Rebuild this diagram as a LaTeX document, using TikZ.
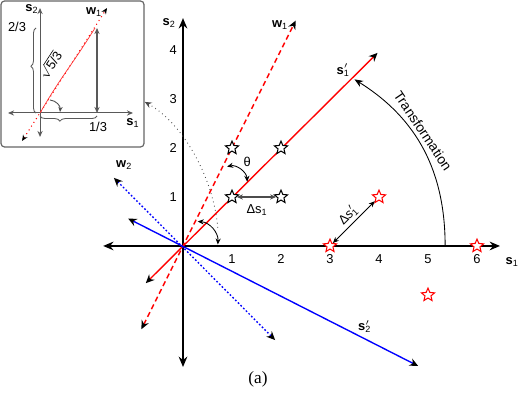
\documentclass[tikz,border=0pt]{standalone}
\usepackage{fontspec}
\setmainfont{Liberation Serif}
\setsansfont{Liberation Sans}
\usetikzlibrary{arrows.meta,positioning,shapes.geometric,decorations.pathreplacing}

\newcommand{\svec}[2]{\textbf{#1}\textsubscript{#2}}
\newcommand{\spvec}[2]{\textbf{#1}\rlap{$^{\prime}$}\textsubscript{#2}}

\begin{document}
\begin{tikzpicture}[every node/.style={font=\sffamily\fontsize{7.5}{9}\selectfont},
  axis/.style={line width=1.1pt, {Stealth[length=6pt,width=5pt]}-{Stealth[length=6pt,width=5pt]}},
  ray/.style={line width=0.8pt, {Stealth[length=5pt,width=4.5pt,color=black]}-{Stealth[length=5pt,width=4.5pt,color=black]}},
  small/.style={line width=0.5pt, {Stealth[length=3.5pt,width=3pt]}-{Stealth[length=3.5pt,width=3pt]}},
  pt/.style={star, star points=5, star point ratio=2.2, minimum size=0.28cm, inner sep=0pt, draw, fill=white, line width=0.6pt},
  iaxis/.style={black!65, line width=0.6pt, {Stealth[length=3.5pt,width=3pt]}-{Stealth[length=3.5pt,width=3pt]}}]
\useasboundingbox (-3.735,-3.204) rectangle (6.878,5.02);

% axes
\coordinate (O) at (0,0);
\coordinate (s1l) at (-1.63,0);
\coordinate (s1r) at (6.47,0);
\coordinate (s2b) at (0,-2.47);
\coordinate (s2t) at (0,4.65);
\draw[axis] (s1l) -- (s1r);
\draw[axis] (s2b) -- (s2t);
\node (s1lab) at (6.72,-0.33) {\svec{s}{1}};
\node (s2lab) at (-0.28,4.55) {\svec{s}{2}};
\foreach \i in {1,...,6} \node (tx\i) at (\i,-0.27) {\i};
\foreach \i in {1,...,4} \node (ty\i) at (-0.2,\i) {\i};

% directions
\coordinate (w1a) at (-0.85,-1.7);
\coordinate (w1b) at (2.3,4.6);
\coordinate (p1a) at (-0.76,-0.76);
\coordinate (p1b) at (3.97,3.94);
\coordinate (p2a) at (-1.12,0.56);
\coordinate (p2b) at (4.8,-2.45);
\coordinate (w2a) at (-1.41,1.39);
\coordinate (w2b) at (1.88,-1.92);
\draw[ray, red, dash pattern=on 3pt off 2pt] (w1a) -- (w1b);
\draw[ray, red] (p1a) -- (p1b);
\draw[ray, blue] (p2a) -- (p2b);
\draw[ray, blue, dash pattern=on 1pt off 1.2pt] (w2a) -- (w2b);
\node (w1lab) at (1.98,4.51) {\svec{w}{1}};
\node (p1lab) at (3.27,3.59) {\spvec{s}{1}};
\node (p2lab) at (3.71,-1.65) {\spvec{s}{2}};
\node (w2lab) at (-1.2,1.65) {\svec{w}{2}};

% angles
\coordinate (tha) at (0.9,1.62);
\coordinate (thb) at (1.31,1.31);
\draw[small] (tha) to[bend left=50] (thb);
\node (thlab) at (1.31,1.72) {θ};
\coordinate (ala) at (0.3,0.5);
\coordinate (alb) at (0.71,0.03);
\draw[small] (ala) to[bend left=45] (alb);

% transformation
\coordinate (tr0) at (5.35,0);
\coordinate (tr1) at (3.5,3.4);
\draw[line width=0.5pt, -{Stealth[length=5pt,width=4pt]}] (tr0) to[out=90,in=-32] (tr1);
\node[rotate=-56, font=\sffamily\fontsize{8}{10}\selectfont] (trlab) at (4.9,2.35) {Transformation};

% points
\node[pt] (b11) at (1,1) {};
\node[pt] (b22) at (2,2) {};
\node[pt] (b21) at (2,1) {};
\node[pt] (b12) at (1,2) {};
\node[pt, draw=red] (r30) at (3,0) {};
\node[pt, draw=red] (r60) at (6,0) {};
\node[pt, draw=red] (r41) at (4,1) {};
\node[pt, draw=red] (r5m) at (5,-1) {};
\draw[small, black!70, line width=0.7pt] (b11) -- (b21);
\node (ds1) at (1.51,0.73) {Δs\textsubscript{1}};
\draw[small] (r41) -- (r30);
\node[rotate=45] (dsp1) at (3.37,0.63) {Δ\textit{s}\rlap{$^{\prime}$}\textsubscript{1}};

% zoom
\coordinate (zma) at (0.71,0.37);
\coordinate (zmb) at (-0.78,2.94);
\draw[black!70, line width=0.5pt, dotted, -{Stealth[length=4pt,width=3.5pt]}] (zma) .. controls (0.62,1.4) and (0.0,2.5) .. (zmb);

\begin{scope}[shift={(-2.918,2.714)}, x=0.0204cm, y=0.0204cm]
\draw[black!60, line width=0.7pt, rounded corners=2pt] (-39,112) rectangle (104,-34);
\draw[iaxis] (-32,0) -- (93,0);
\draw[iaxis] (0,105) -- (0,-24);
\draw[red, dotted, line width=0.6pt, {Stealth[length=3.5pt,width=3pt,color=black]}-{Stealth[length=3.5pt,width=3pt,color=black]}] (-18,-28) -- (67,105);
\draw[red!80, line width=0.4pt] (0,0) .. controls (22,38) and (30,45) .. (55,85);
\draw[iaxis] (57,85) -- (57,0);
\draw[black!65, line width=0.5pt, decorate, decoration={brace, amplitude=3pt, aspect=0.55}] (-4,0) -- (-4,85);
\draw[black!65, line width=0.5pt, decorate, decoration={brace, amplitude=3pt, mirror, aspect=0.35}] (0,-3) -- (57,-3);
\draw[black!70, line width=0.5pt, -{Stealth[length=3pt,width=2.5pt]}] (10,13) to[bend left=45] (20,1);
\node (is2) at (-8,104) {\svec{s}{2}};
\node (iw1) at (54,101) {\svec{w}{1}};
\node (i23) at (-23,86) {2/3};
\node[rotate=57] (isq) at (10,48) {$\sqrt{\mbox{5/3}}$};
\node (i13) at (58,-14) {1/3};
\node (is1) at (93,-10) {\svec{s}{1}};
\end{scope}

\node[font=\rmfamily\fontsize{10}{12}\selectfont] (cap) at (1.53,-2.73) {(a)};
\end{tikzpicture}
\end{document}
